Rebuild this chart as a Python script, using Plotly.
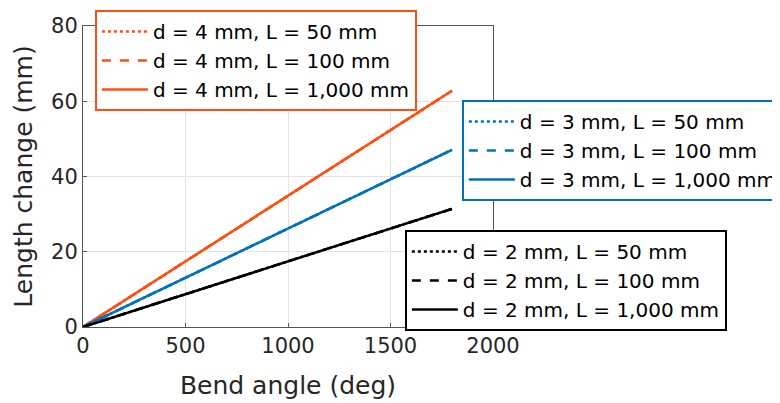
import plotly.graph_objects as go

bend_angle = [0, 1800]
len_d4 = [0, 62.8]
len_d3 = [0, 47.1]
len_d2 = [0, 31.4]
lengths_L = ["50", "100", "1,000"]
dashes = ["dot", "dash", "solid"]
x_ticks = [0, 500, 1000, 1500, 2000]
y_ticks = [0, 20, 40, 60, 80]

ORANGE = "#FF4E12"
BLUE = "#0072BD"
BLACK = "#000000"

fig = go.Figure()
groups = [("4", len_d4, ORANGE, "legend"), ("3", len_d3, BLUE, "legend2"), ("2", len_d2, BLACK, "legend3")]
for d, yv, col, leg in groups:
    for L, dash in zip(lengths_L, dashes):
        fig.add_trace(go.Scatter(
            x=bend_angle, y=yv, mode="lines",
            line=dict(color=col, width=2.5, dash=dash),
            name=f"d = {d} mm, L = {L} mm", legend=leg))

FAM = "DejaVu Sans, Liberation Sans, Arial, sans-serif"
font = dict(family=FAM, size=21, color="#262626")
legfont = dict(family=FAM, size=20, color="#000000")

def legend_cfg(x, y, col):
    return dict(x=x, y=y, xanchor="left", yanchor="top", bgcolor="white",
                bordercolor=col, borderwidth=2, font=legfont, itemwidth=46,
                tracegroupgap=0, itemclick=False)

# page body has an 8px margin: compensate so the plot area lands at x 83-493, y 26-327
fig.update_layout(
    width=780, height=403,
    margin=dict(l=75, r=295, t=18, b=84, autoexpand=False),
    paper_bgcolor="white", plot_bgcolor="white",
    font=font,
    showlegend=True,
    legend=legend_cfg(0.029, 1.053, ORANGE),
    legend2=legend_cfg(0.924, 0.754, BLUE),
    legend3=legend_cfg(0.785, 0.322, BLACK),
)
fig.update_xaxes(range=[0, 2000], tickvals=x_ticks, showgrid=True, gridcolor="#E3E3E3",
                 showline=True, linecolor="#555555", linewidth=1, mirror=True,
                 ticks="inside", ticklen=4, tickcolor="#555555", zeroline=False,
                 title=dict(text="Bend angle (deg)", standoff=19), tickfont=font)
fig.update_yaxes(range=[0, 80], tickvals=y_ticks, showgrid=True, gridcolor="#E3E3E3",
                 showline=True, linecolor="#555555", linewidth=1, mirror=True,
                 ticks="inside", ticklen=4, tickcolor="#555555", zeroline=False,
                 title=dict(text="Length change (mm)", standoff=11), tickfont=font)

fig.write_html("out.html")
